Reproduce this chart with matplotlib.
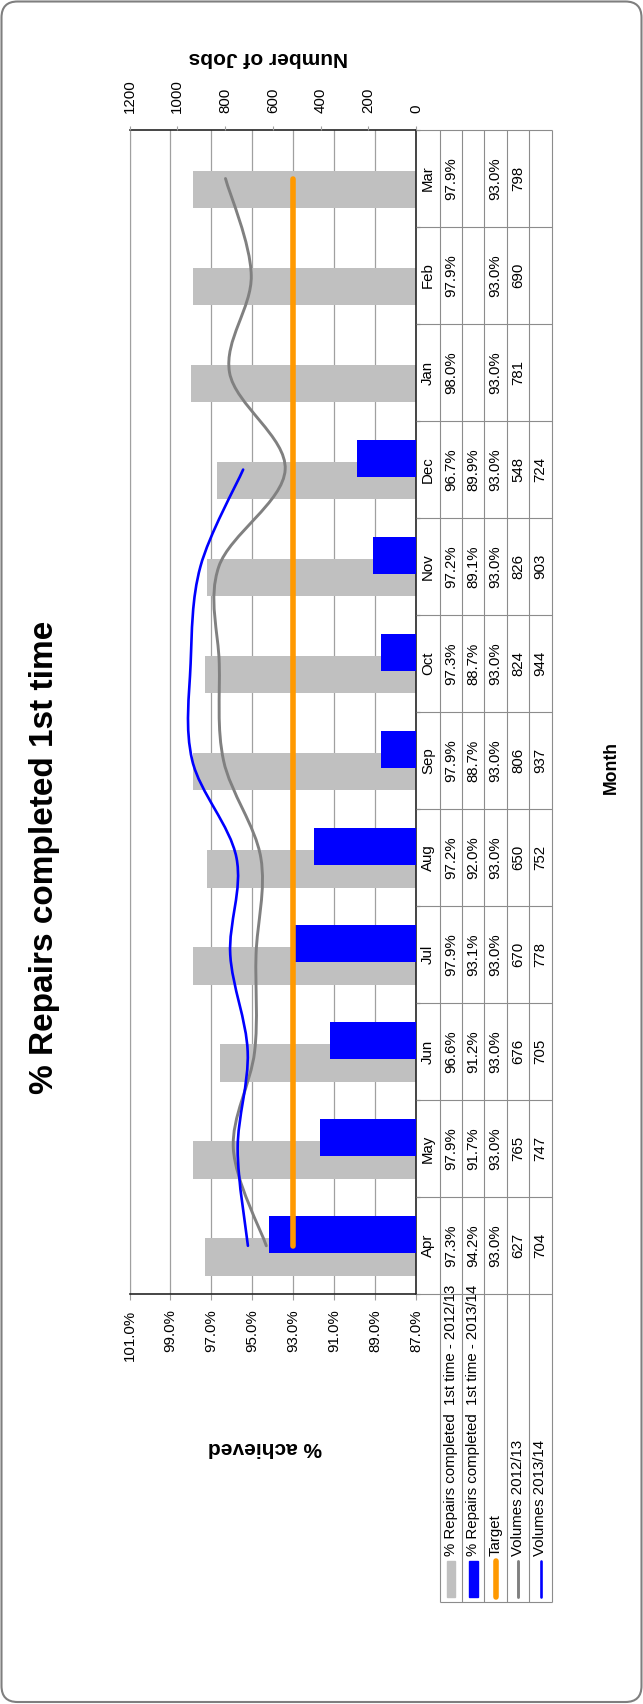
import numpy as np
import matplotlib
matplotlib.use('Agg')
import matplotlib.pyplot as plt
from matplotlib.path import Path
from matplotlib.patches import PathPatch, Rectangle, FancyBboxPatch
from matplotlib.ticker import FuncFormatter

plt.rcParams['font.family'] = ['Liberation Sans', 'DejaVu Sans']

# data (financial year Apr..Mar)
months = ['Apr', 'May', 'Jun', 'Jul', 'Aug', 'Sep', 'Oct', 'Nov', 'Dec', 'Jan', 'Feb', 'Mar']
pct_1213 = [97.3, 97.9, 96.6, 97.9, 97.2, 97.9, 97.3, 97.2, 96.7, 98.0, 97.9, 97.9]
pct_1314 = [94.2, 91.7, 91.2, 93.1, 92.0, 88.7, 88.7, 89.1, 89.9]
target = [93.0] * 12
vol_1213 = [627, 765, 676, 670, 650, 806, 824, 826, 548, 781, 690, 798]
vol_1314 = [704, 747, 705, 778, 752, 937, 944, 903, 724]
series_names = ['% Repairs completed  1st time - 2012/13',
                '% Repairs completed  1st time - 2013/14',
                'Target', 'Volumes 2012/13', 'Volumes 2013/14']

c_gray_bar = '#C0C0C0'
c_blue = '#0000FF'
c_orange = '#FF9900'
c_gray_line = '#808080'
c_grid = '#A0A0A0'
c_table = '#8C8C8C'

W, H = 643, 1704
fig = plt.figure(figsize=(W / 100, H / 100), dpi=100)


def fx(px):
    return px / W


def fy(py):
    return 1 - py / H


# plot area in pixels (chart is drawn turned on its side)
L, R, T, B = 129.5, 416, 130, 1294.3
slot = (B - T) / 12
ax = fig.add_axes([fx(L), fy(B), (R - L) / W, (B - T) / H])

y = np.arange(len(months))
ax.barh(y - 0.115, np.array(pct_1213) - 87, left=87, height=0.385,
        color=c_gray_bar, zorder=2)
ax.barh(y[:len(pct_1314)] + 0.115, np.array(pct_1314) - 87, left=87,
        height=0.385, color=c_blue, zorder=3)
ax.plot(target, y, color=c_orange, lw=4, solid_capstyle='round', zorder=4)

ax.set_xlim(101, 87)
ax.set_ylim(-0.5, 11.5)
ax.set_xticks(range(87, 102, 2))
ax.xaxis.set_major_formatter(FuncFormatter(lambda v, p: f'{v:.1f}%'))
ax.tick_params(axis='x', direction='out', length=4, pad=7, labelsize=10.8,
               labelrotation=90, color=c_grid)
ax.grid(axis='x', color=c_grid, lw=0.9)
ax.set_axisbelow(True)
ax.yaxis.tick_right()
ax.set_yticks(np.arange(-0.5, 12, 1))
ax.tick_params(axis='y', direction='out', length=3, labelright=False,
               color='#333333')
for s in ['top', 'bottom', 'right']:
    ax.spines[s].set_color('#262626')
    ax.spines[s].set_linewidth(1.2)
ax.spines['left'].set_color(c_grid)

# secondary axis for job volumes
ax2 = ax.twiny()
ax2.set_xlim(1200, 0)
ax2.set_xticks(range(0, 1201, 200))
ax2.tick_params(axis='x', direction='out', length=3, pad=9, labelsize=10.8,
                labelrotation=90, color=c_grid)
for s in ax2.spines.values():
    s.set_visible(False)


def smooth_path(xs, ys):
    pts = np.column_stack([xs, ys]).astype(float)
    n = len(pts)
    verts = [pts[0]]
    codes = [Path.MOVETO]
    for k in range(n - 1):
        p0 = pts[max(k - 1, 0)]
        p1 = pts[k]
        p2 = pts[k + 1]
        p3 = pts[min(k + 2, n - 1)]
        verts += [p1 + (p2 - p0) / 6, p2 - (p3 - p1) / 6, p2]
        codes += [Path.CURVE4] * 3
    return Path(verts, codes)


ax2.add_patch(PathPatch(smooth_path(vol_1213, y), fill=False,
                        ec=c_gray_line, lw=2.1, capstyle='round', zorder=5))
ax2.add_patch(PathPatch(smooth_path(vol_1314, y[:len(vol_1314)]), fill=False,
                        ec=c_blue, lw=1.9, capstyle='round', zorder=6))

# data table with legend keys
leg_bottom = 1602
LEG = (leg_bottom - B) / slot
tab = fig.add_axes([fx(R), fy(leg_bottom), (551.7 - R) / W, (leg_bottom - T) / H])
col_edges = [0, 24, 46.3, 68.3, 90.7, 113.3, 135.7]
tab.set_xlim(0, col_edges[-1])
tab.set_ylim(-0.5 - LEG, 11.5)
tab.axis('off')
tab.hlines(np.arange(-0.5, 12, 1), 0, col_edges[-1], color=c_table, lw=0.8, clip_on=False)
tab.hlines(-0.5 - LEG, col_edges[1], col_edges[-1], color=c_table, lw=0.8, clip_on=False)
tab.vlines(col_edges[1:], -0.5 - LEG, 11.5, color=c_table, lw=0.8, clip_on=False)

centers = [(col_edges[k] + col_edges[k + 1]) / 2 for k in range(6)]
columns = [months,
           [f'{v:.1f}%' for v in pct_1213],
           [f'{v:.1f}%' for v in pct_1314],
           [f'{v:.1f}%' for v in target],
           [str(v) for v in vol_1213],
           [str(v) for v in vol_1314]]
for cx, col in zip(centers, columns):
    for i, txt in enumerate(col):
        tab.text(cx, i, txt, rotation=90, ha='center', va='center', fontsize=10.8)

key_top = -0.5 - (1561 - B) / slot
key_bot = -0.5 - (1597 - B) / slot
text_y = -0.5 - (1556 - B) / slot
for k, name in enumerate(series_names):
    cx = centers[k + 1]
    if k == 0 or k == 1:
        col = c_gray_bar if k == 0 else c_blue
        tab.add_patch(Rectangle((cx - 4.2, key_bot), 8.4, key_top - key_bot,
                                color=col, clip_on=False))
    else:
        col = [c_orange, c_gray_line, c_blue][k - 2]
        lw = [4, 2.1, 1.9][k - 2]
        tab.plot([cx, cx], [key_bot, key_top], color=col, lw=lw,
                 solid_capstyle='round', clip_on=False)
    tab.text(cx, text_y, name, rotation=90, ha='center', va='bottom', fontsize=10.8)

# titles
fig.text(fx(45), fy(857), '% Repairs completed 1st time', rotation=90,
         ha='center', va='center', fontsize=24, fontweight='bold')
fig.text(fx(611), fy(767), 'Month', rotation=90, ha='center', va='center',
         fontsize=12.7, fontweight='bold')
fig.text(fx(265), fy(1447), '% achieved', rotation=180, ha='center',
         va='center', fontsize=15, fontweight='bold')
fig.text(fx(268), fy(58), 'Number of Jobs', rotation=180, ha='center',
         va='center', fontsize=15, fontweight='bold')

# rounded chart border
fig.patches.append(FancyBboxPatch((fx(1.5), fy(1702)), fx(640), 1700.5 / H,
                                  boxstyle='round,pad=0,rounding_size=0.025',
                                  mutation_aspect=W / H, transform=fig.transFigure,
                                  fill=False, ec='#7F7F7F', lw=1.5))

fig.savefig('out.png', dpi=100)
